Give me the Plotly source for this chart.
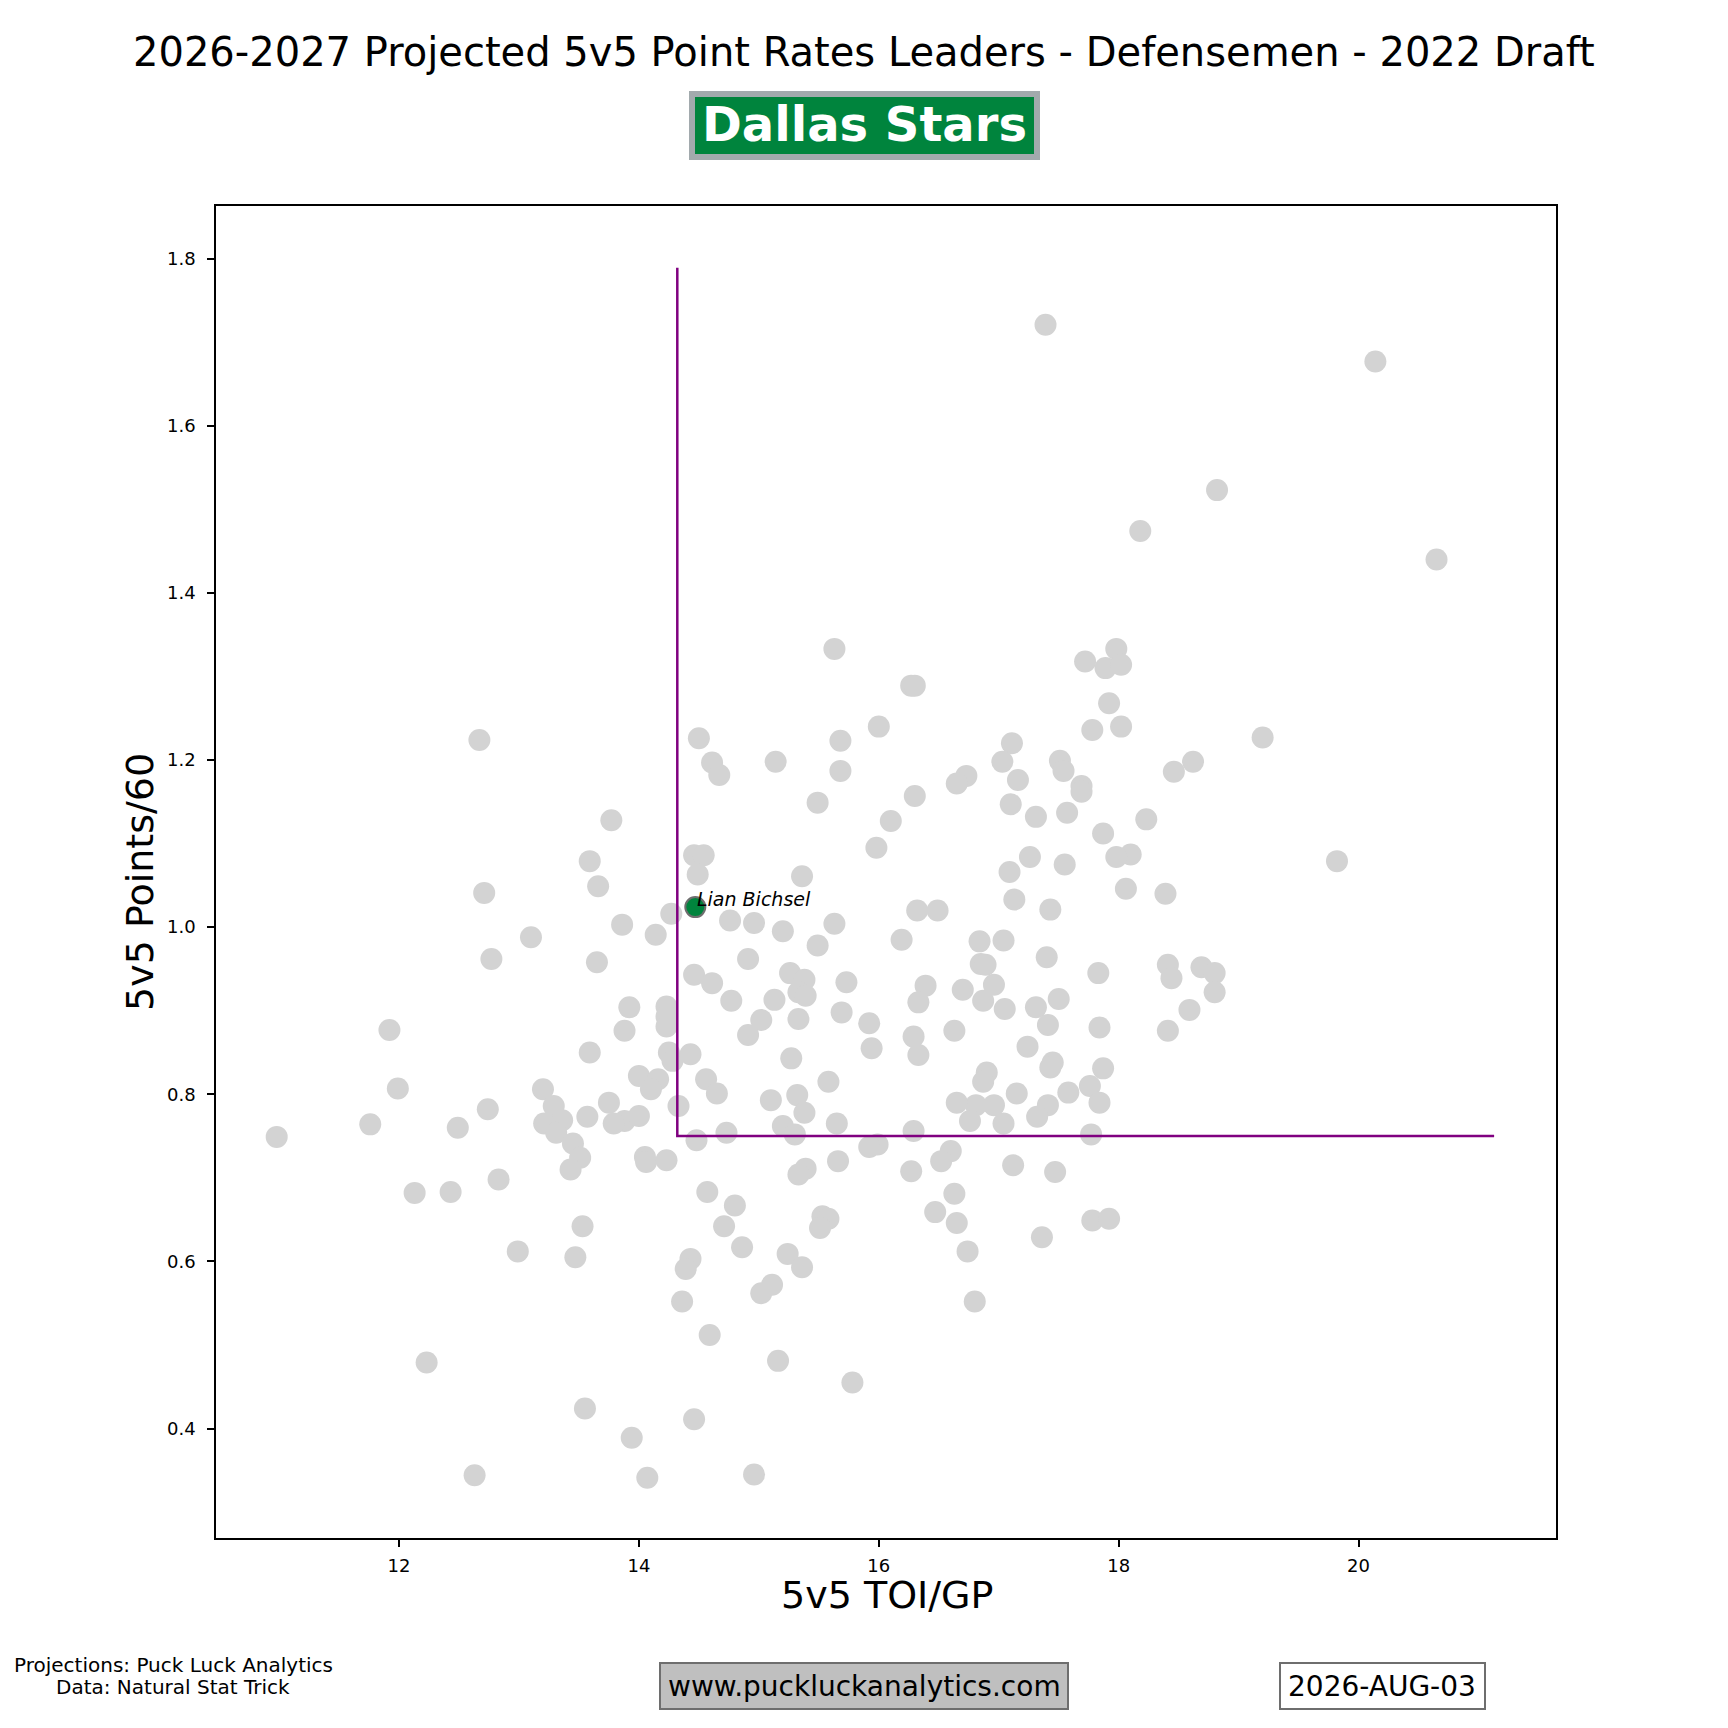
import plotly.graph_objects as go

# ---------------- data ----------------
toi_gp = [
    17.39, 20.14, 18.82, 18.18, 20.65, 15.63, 17.98, 17.72, 17.89, 18.02,
    16.27, 16.30, 17.92, 17.78, 18.02, 16.00, 12.67, 15.68, 19.20, 17.11,
    14.50, 17.03, 17.51, 18.62, 15.14, 14.61, 17.54, 14.67, 15.68, 16.73,
    16.65, 17.16, 17.69, 17.69, 18.46, 15.49, 16.30, 17.10, 17.31, 17.57,
    13.77, 16.10, 18.23, 17.87, 15.98, 13.59, 14.46, 14.54, 17.26, 17.55,
    18.10, 17.98, 19.82, 13.66, 14.49, 15.36, 17.09, 18.06, 18.39, 17.13,
    12.71, 13.86, 14.27, 14.76, 14.96, 15.63, 16.32, 16.49, 17.43,
    13.10, 14.14, 15.20, 16.19, 17.04, 16.84, 15.49, 14.91, 12.77, 13.65,
    17.40, 16.85, 16.89, 18.41, 18.69, 18.44, 18.80, 14.46, 14.61, 15.26,
    15.38, 15.73, 16.39, 16.70, 16.96, 17.83, 15.33, 15.39, 15.13, 14.77,
    16.33, 16.87, 17.50, 18.80, 13.92, 14.23, 17.05, 17.31, 18.59, 14.23,
    15.02, 15.33, 15.69, 15.92, 14.23, 17.41, 17.84, 11.92, 13.88, 14.91,
    16.29, 16.63, 18.41, 17.24, 15.94, 13.59, 14.25, 14.28, 14.43, 15.27,
    16.33, 17.45, 17.43, 16.90, 17.87, 14.00, 14.56, 15.58, 16.87, 14.16,
    14.10, 11.99, 13.20, 14.65, 15.10, 15.32, 17.15, 17.58, 17.76, 12.74,
    13.29, 14.33, 15.38, 16.81, 16.65, 16.96, 17.41, 17.84, 13.57, 13.36,
    13.75, 13.88, 14.00, 13.79, 17.32, 11.76, 12.49, 13.21, 13.31, 15.20,
    15.30, 15.65, 14.73, 16.29, 16.76, 17.04, 17.77, 10.98, 13.45, 14.48,
    15.99, 15.92, 13.51, 14.05, 14.06, 14.23, 15.66, 15.39, 16.60, 13.43,
    16.52, 16.27, 17.12, 17.47, 15.33, 12.83, 12.13, 12.43, 14.57, 16.63,
    14.80, 16.47, 15.53, 15.58, 15.51, 13.53, 14.71, 16.65, 17.78, 17.92,
    17.36, 14.86, 16.74, 12.99, 15.24, 13.47, 14.43, 14.39, 15.36, 15.11,
    15.02, 14.36, 16.80, 14.59, 15.16, 12.23, 15.78, 13.55, 14.46, 13.94,
    12.63, 14.07, 14.96,
]
points_60 = [
    1.721, 1.677, 1.523, 1.474, 1.440, 1.333, 1.333, 1.318, 1.310, 1.314,
    1.289, 1.289, 1.268, 1.236, 1.240, 1.240, 1.224, 1.223, 1.227, 1.220,
    1.226, 1.198, 1.199, 1.198, 1.198, 1.197, 1.187, 1.182, 1.187, 1.181,
    1.172, 1.176, 1.169, 1.162, 1.186, 1.149, 1.157, 1.147, 1.132, 1.137,
    1.128, 1.127, 1.129, 1.112, 1.095, 1.079, 1.086, 1.086, 1.084, 1.075,
    1.087, 1.084, 1.079, 1.049, 1.063, 1.061, 1.066, 1.046, 1.040, 1.033,
    1.041, 1.003, 1.016, 1.008, 1.005, 1.004, 1.020, 1.020, 1.021,
    0.988, 0.991, 0.995, 0.985, 0.984, 0.983, 0.978, 0.962, 0.962, 0.958,
    0.964, 0.956, 0.955, 0.955, 0.952, 0.939, 0.945, 0.943, 0.933, 0.945,
    0.937, 0.934, 0.930, 0.925, 0.931, 0.945, 0.922, 0.918, 0.913, 0.912,
    0.910, 0.912, 0.914, 0.922, 0.904, 0.905, 0.902, 0.904, 0.901, 0.893,
    0.889, 0.890, 0.898, 0.885, 0.881, 0.883, 0.880, 0.877, 0.876, 0.871,
    0.869, 0.876, 0.876, 0.857, 0.855, 0.850, 0.850, 0.840, 0.848, 0.843,
    0.847, 0.838, 0.832, 0.826, 0.831, 0.822, 0.818, 0.815, 0.815, 0.818,
    0.806, 0.807, 0.806, 0.801, 0.793, 0.799, 0.801, 0.802, 0.810, 0.782,
    0.786, 0.786, 0.778, 0.787, 0.790, 0.787, 0.787, 0.790, 0.773, 0.769,
    0.790, 0.768, 0.774, 0.765, 0.773, 0.764, 0.760, 0.765, 0.754, 0.762,
    0.752, 0.765, 0.754, 0.756, 0.768, 0.765, 0.752, 0.749, 0.741, 0.745,
    0.740, 0.737, 0.724, 0.725, 0.719, 0.721, 0.720, 0.711, 0.732, 0.710,
    0.720, 0.708, 0.715, 0.707, 0.704, 0.698, 0.682, 0.683, 0.683, 0.681,
    0.667, 0.659, 0.654, 0.651, 0.640, 0.642, 0.642, 0.646, 0.649, 0.651,
    0.629, 0.617, 0.612, 0.612, 0.609, 0.605, 0.603, 0.591, 0.593, 0.572,
    0.562, 0.552, 0.552, 0.512, 0.481, 0.479, 0.455, 0.424, 0.411, 0.389,
    0.344, 0.341, 0.345,
]

highlight_name = "Lian Bichsel"
highlight_toi = 14.47
highlight_pts = 1.024

# reference lines (threshold values)
x_threshold = 14.32
y_threshold = 0.75
x_line_end = 21.13
y_line_end = 1.789

x_ticks = [12, 14, 16, 18, 20]
y_ticks = [0.4, 0.6, 0.8, 1.0, 1.2, 1.4, 1.6, 1.8]

title_text = "2026-2027 Projected 5v5 Point Rates Leaders - Defensemen - 2022 Draft"
team_text = "Dallas Stars"
x_title = "5v5 TOI/GP"
y_title = "5v5 Points/60"
credits_lines = ["Projections: Puck Luck Analytics", "Data: Natural Stat Trick"]
site_text = "www.puckluckanalytics.com"
date_text = "2026-AUG-03"

# ---------------- layout geometry ----------------
OFF = 8                      # page body margin of the html page
W = H = 1728 - OFF
# plot area, in page pixels
PL, PR, PT, PB = 216, 1556, 206, 1538
L, R, T, B = PL - OFF, PR - OFF, PT - OFF, PB - OFF


def px_x(p):
    """page pixel x -> paper coordinate"""
    return (p - OFF - L) / (R - L)


def px_y(p):
    """page pixel y -> paper coordinate"""
    return (B - (p - OFF)) / (B - T)


FONT = "DejaVu Sans"
STARS_GREEN = "#00843D"
STARS_SILVER = "#A2AAAD"

fig = go.Figure()

fig.add_trace(go.Scatter(
    x=toi_gp, y=points_60, mode="markers",
    marker=dict(size=22, color="#D3D3D3", line=dict(width=0)),
    hoverinfo="skip", showlegend=False,
))

fig.add_trace(go.Scatter(
    x=[x_threshold, x_threshold, x_line_end],
    y=[y_line_end, y_threshold, y_threshold],
    mode="lines", line=dict(color="#800080", width=2.5),
    hoverinfo="skip", showlegend=False,
))

fig.add_trace(go.Scatter(
    x=[highlight_toi], y=[highlight_pts], mode="markers",
    marker=dict(size=20, color=STARS_GREEN, line=dict(width=2, color="#6E6E6E")),
    hoverinfo="skip", showlegend=False,
))

shapes = [
    # team banner
    dict(type="rect", xref="paper", yref="paper",
         x0=px_x(692), x1=px_x(1037), y0=px_y(157), y1=px_y(94),
         fillcolor=STARS_GREEN, line=dict(color=STARS_SILVER, width=6), layer="above"),
    # website box
    dict(type="rect", xref="paper", yref="paper",
         x0=px_x(660), x1=px_x(1068), y0=px_y(1709), y1=px_y(1663),
         fillcolor="#BFBFBF", line=dict(color="#6E6E6E", width=2), layer="above"),
    # date box
    dict(type="rect", xref="paper", yref="paper",
         x0=px_x(1280), x1=px_x(1485), y0=px_y(1709), y1=px_y(1663),
         fillcolor="white", line=dict(color="#6E6E6E", width=2), layer="above"),
]

annotations = [
    dict(x=highlight_toi, y=highlight_pts, xref="x", yref="y",
         text=f"<i>{highlight_name}</i>", showarrow=False,
         xanchor="left", yanchor="bottom", yshift=-5,
         font=dict(family=FONT, size=19, color="black")),
    dict(x=px_x(864), y=px_y(52), xref="paper", yref="paper", text=title_text,
         showarrow=False, xanchor="center", yanchor="middle",
         font=dict(family=FONT, size=40, color="black")),
    dict(x=px_x(864), y=px_y(124), xref="paper", yref="paper",
         text=f"<b>{team_text}</b>", showarrow=False,
         xanchor="center", yanchor="middle",
         font=dict(family=FONT, size=48, color="white")),
    dict(x=px_x(887), y=px_y(1595), xref="paper", yref="paper", text=x_title,
         showarrow=False, xanchor="center", yanchor="middle",
         font=dict(family=FONT, size=38, color="black")),
    dict(x=px_x(140), y=px_y(882), xref="paper", yref="paper", text=y_title,
         showarrow=False, xanchor="center", yanchor="middle", textangle=-90,
         font=dict(family=FONT, size=38, color="black")),
    dict(x=px_x(173), y=px_y(1665), xref="paper", yref="paper", text=credits_lines[0],
         showarrow=False, xanchor="center", yanchor="middle",
         font=dict(family=FONT, size=20, color="black")),
    dict(x=px_x(173), y=px_y(1687), xref="paper", yref="paper", text=credits_lines[1],
         showarrow=False, xanchor="center", yanchor="middle",
         font=dict(family=FONT, size=20, color="black")),
    dict(x=px_x(864), y=px_y(1686), xref="paper", yref="paper", text=site_text,
         showarrow=False, xanchor="center", yanchor="middle",
         font=dict(family=FONT, size=28, color="black")),
    dict(x=px_x(1382), y=px_y(1686), xref="paper", yref="paper", text=date_text,
         showarrow=False, xanchor="center", yanchor="middle",
         font=dict(family=FONT, size=28, color="black")),
]

axis_common = dict(
    showgrid=False, zeroline=False, showline=True, linecolor="black", linewidth=1.5,
    mirror=True, ticks="outside", ticklen=7, tickwidth=1.5, tickcolor="black",
    tickfont=dict(family=FONT, size=18, color="black"),
)

fig.update_layout(
    width=W, height=H,
    margin=dict(l=L, r=W - R, t=T, b=H - B, pad=0),
    paper_bgcolor="white", plot_bgcolor="white",
    font=dict(family=FONT),
    xaxis=dict(range=[10.474, 21.646], tickvals=x_ticks, ticklabelstandoff=4,
               **axis_common),
    yaxis=dict(range=[0.269, 1.863], tickvals=y_ticks, tickformat=".1f",
               ticklabelstandoff=8, **axis_common),
    shapes=shapes,
    annotations=annotations,
    showlegend=False,
)

fig.write_html("out.html")
